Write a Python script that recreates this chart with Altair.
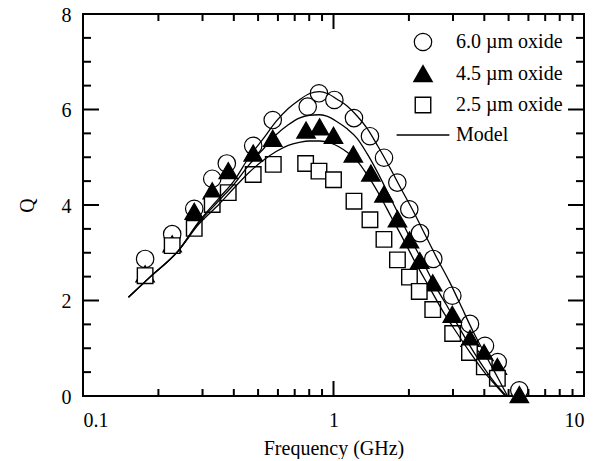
import altair as alt
import pandas as pd

# ---------------- data ----------------
SERIES = ["6.0 µm oxide", "4.5 µm oxide", "2.5 µm oxide", "Model"]

f60 = [0.177, 0.227, 0.278, 0.328, 0.375, 0.478, 0.572, 0.789, 0.875, 1.008, 1.207,
       1.398, 1.591, 1.798, 2.007, 2.214, 2.503, 2.981, 3.507, 4.025, 4.524, 5.517]
q60 = [2.87, 3.39, 3.92, 4.55, 4.87, 5.24, 5.78, 6.06, 6.34, 6.20, 5.82,
       5.44, 4.99, 4.47, 3.91, 3.41, 2.87, 2.10, 1.51, 1.05, 0.71, 0.12]

f45 = [0.177, 0.227, 0.278, 0.328, 0.380, 0.478, 0.572, 0.777, 0.88, 1.0, 1.2,
       1.41, 1.59, 1.80, 2.01, 2.21, 2.49, 2.98, 3.51, 3.99, 4.51, 5.52]
q45 = [2.55, 3.18, 3.86, 4.29, 4.71, 5.08, 5.39, 5.56, 5.63, 5.45, 5.06,
       4.66, 4.22, 3.70, 3.26, 2.83, 2.36, 1.70, 1.20, 0.90, 0.61, 0.02]

f25 = [0.177, 0.227, 0.278, 0.328, 0.380, 0.478, 0.575, 0.774, 0.875, 1.0, 1.207,
       1.398, 1.59, 1.80, 2.01, 2.20, 2.49, 2.99, 3.49, 4.0, 4.51]
q25 = [2.52, 3.15, 3.51, 4.01, 4.26, 4.64, 4.85, 4.87, 4.71, 4.53, 4.08,
       3.69, 3.28, 2.85, 2.49, 2.19, 1.81, 1.31, 0.91, 0.61, 0.37]

mf60 = [0.152, 0.185, 0.24, 0.29, 0.35, 0.40, 0.46, 0.53, 0.59, 0.66, 0.73, 0.80, 0.88,
        0.95, 1.03, 1.13, 1.24, 1.36, 1.50, 1.68, 1.87, 2.08, 2.30, 2.58, 2.90, 3.20,
        3.60, 4.15, 4.55, 4.95]
mq60 = [2.07, 2.49, 3.04, 3.65, 4.15, 4.50, 5.00, 5.42, 5.75, 6.02, 6.20, 6.33, 6.375,
        6.33, 6.22, 6.08, 5.87, 5.61, 5.24, 4.78, 4.32, 3.875, 3.42, 2.90, 2.40, 1.93,
        1.36, 0.75, 0.36, 0.0]

mf45 = [0.152, 0.185, 0.24, 0.29, 0.35, 0.40, 0.46, 0.53, 0.59, 0.66, 0.73, 0.80, 0.87,
        0.94, 1.03, 1.13, 1.24, 1.36, 1.49, 1.65, 1.84, 2.05, 2.28, 2.55, 2.83, 3.20,
        3.60, 3.95, 4.40, 4.90]
mq45 = [2.07, 2.49, 3.04, 3.63, 4.10, 4.43, 4.84, 5.20, 5.47, 5.68, 5.82, 5.88, 5.89,
        5.86, 5.75, 5.60, 5.40, 5.08, 4.71, 4.25, 3.75, 3.25, 2.80, 2.30, 1.90, 1.40,
        0.95, 0.62, 0.28, 0.0]

mf25 = [0.152, 0.185, 0.24, 0.29, 0.35, 0.40, 0.46, 0.52, 0.59, 0.66, 0.73, 0.80, 0.88,
        0.97, 1.05, 1.13, 1.24, 1.36, 1.53, 1.70, 1.90, 2.10, 2.43, 2.75, 3.10, 3.50,
        4.00, 4.45, 4.85]
mq25 = [2.07, 2.49, 3.04, 3.60, 4.02, 4.35, 4.68, 4.92, 5.12, 5.25, 5.31, 5.34, 5.34,
        5.30, 5.22, 5.11, 4.93, 4.64, 4.20, 3.75, 3.28, 2.84, 2.25, 1.75, 1.33, 0.92,
        0.50, 0.22, 0.0]

x_major = [0.1, 1, 10]
x_minor = [0.2, 0.3, 0.4, 0.5, 0.6, 0.7, 0.8, 0.9, 2, 3, 4, 5, 6, 7, 8, 9]
y_major = [0, 2, 4, 6, 8]
y_minor = [0.5, 1, 1.5, 2.5, 3, 3.5, 4.5, 5, 5.5, 6.5, 7, 7.5]

# ---------------- tables ----------------
pts = pd.concat([
    pd.DataFrame({"f": f60, "q": q60, "series": SERIES[0]}),
    pd.DataFrame({"f": f45, "q": q45, "series": SERIES[1]}),
    pd.DataFrame({"f": f25, "q": q25, "series": SERIES[2]}),
], ignore_index=True)
pts["order"] = range(len(pts))

model = pd.concat([
    pd.DataFrame({"f": mf60, "q": mq60, "model": "m60"}),
    pd.DataFrame({"f": mf45, "q": mq45, "model": "m45"}),
    pd.DataFrame({"f": mf25, "q": mq25, "model": "m25"}),
], ignore_index=True)

W, H = 501, 382
FONT = "Liberation Serif, Times New Roman, serif"
SHAPES = [
    "M1.09,0A1.09,1.09,0,1,1,-1.09,0A1.09,1.09,0,1,1,1.09,0Z",
    "M0,-1.05L1.15,0.95L-1.15,0.95Z",
    "M-0.97,-0.97H0.97V0.97H-0.97Z",
    "M-3.3,0H3.3",
]
FILLS = ["white", "black", "white", "white"]
STROKES = ["black", "black", "black", "black"]
STROKE_W = [1.2, 1.5, 1.9, 1.5]

x_scale = alt.Scale(type="log", domain=[0.1, 10], nice=False)
y_scale = alt.Scale(domain=[0, 8], nice=False, zero=False)

x_lab = alt.Axis(orient="bottom", values=x_major, format="~g", ticks=False, tickSize=0,
                 domain=False, grid=False, labelPadding=14, labelFont=FONT,
                 labelFontSize=20, labelColor="black", title="Frequency (GHz)",
                 titleFont=FONT, titleFontSize=20, titleFontWeight="normal",
                 titleColor="black", titlePadding=8)
y_lab = alt.Axis(orient="left", values=y_major, ticks=False, tickSize=0, domain=False,
                 grid=False, labelPadding=12, labelOffset=1, labelFont=FONT,
                 labelFontSize=20, labelColor="black", title="Q", titleFont=FONT,
                 titleFontSize=20, titleFontWeight="normal", titleColor="black",
                 titlePadding=24)

legend = alt.Legend(orient="none", legendX=330, legendY=18, title=None, labelFont=FONT,
                    labelFontSize=20, labelColor="black", symbolSize=256,
                    symbolStrokeWidth=1.5, symbolStrokeColor="black", labelOffset=23,
                    rowPadding=9, padding=0)

points = alt.Chart(pts).mark_point(size=256, stroke="black", strokeWidth=1.5,
                                   opacity=1).encode(
    x=alt.X("f:Q", scale=x_scale, axis=x_lab),
    y=alt.Y("q:Q", scale=y_scale, axis=y_lab),
    shape=alt.Shape("series:N", scale=alt.Scale(domain=SERIES, range=SHAPES),
                    legend=legend),
    fill=alt.Fill("series:N", scale=alt.Scale(domain=SERIES, range=FILLS),
                  legend=legend),
    stroke=alt.Stroke("series:N", scale=alt.Scale(domain=SERIES, range=STROKES),
                      legend=legend),
    strokeWidth=alt.StrokeWidth("series:N",
                                scale=alt.Scale(domain=SERIES, range=STROKE_W),
                                legend=None),
    order=alt.Order("order:Q"),
)

lines = alt.Chart(model).mark_line(color="black", strokeWidth=1.3,
                                   interpolate="monotone").encode(
    x=alt.X("f:Q", scale=x_scale),
    y=alt.Y("q:Q", scale=y_scale),
    detail="model:N",
)


def xticks(values, y0, y1):
    return alt.Chart(pd.DataFrame({"f": values})).mark_rule(
        color="black", strokeWidth=2).encode(
        x=alt.X("f:Q", scale=x_scale),
        y=alt.value(y0), y2=alt.value(y1))


def yticks(values, x0, x1):
    return alt.Chart(pd.DataFrame({"q": values})).mark_rule(
        color="black", strokeWidth=2).encode(
        y=alt.Y("q:Q", scale=y_scale),
        x=alt.value(x0), x2=alt.value(x1))


ticks = [
    xticks(x_major, H, H - 15), xticks(x_minor, H, H - 7),
    xticks(x_major, 0, 15), xticks(x_minor, 0, 7),
    yticks(y_major, 0, 16), yticks(y_minor, 0, 8),
    yticks(y_major, W, W - 16), yticks(y_minor, W, W - 8),
]

chart = alt.layer(points, lines, *ticks).properties(
    width=W, height=H,
    autosize=alt.AutoSizeParams(type="none"),
    padding={"left": 75, "top": 6, "right": 8, "bottom": 63},
).configure_view(stroke="black", strokeWidth=2)

chart.save("out.html", embed_options={"renderer": "svg", "actions": False})
